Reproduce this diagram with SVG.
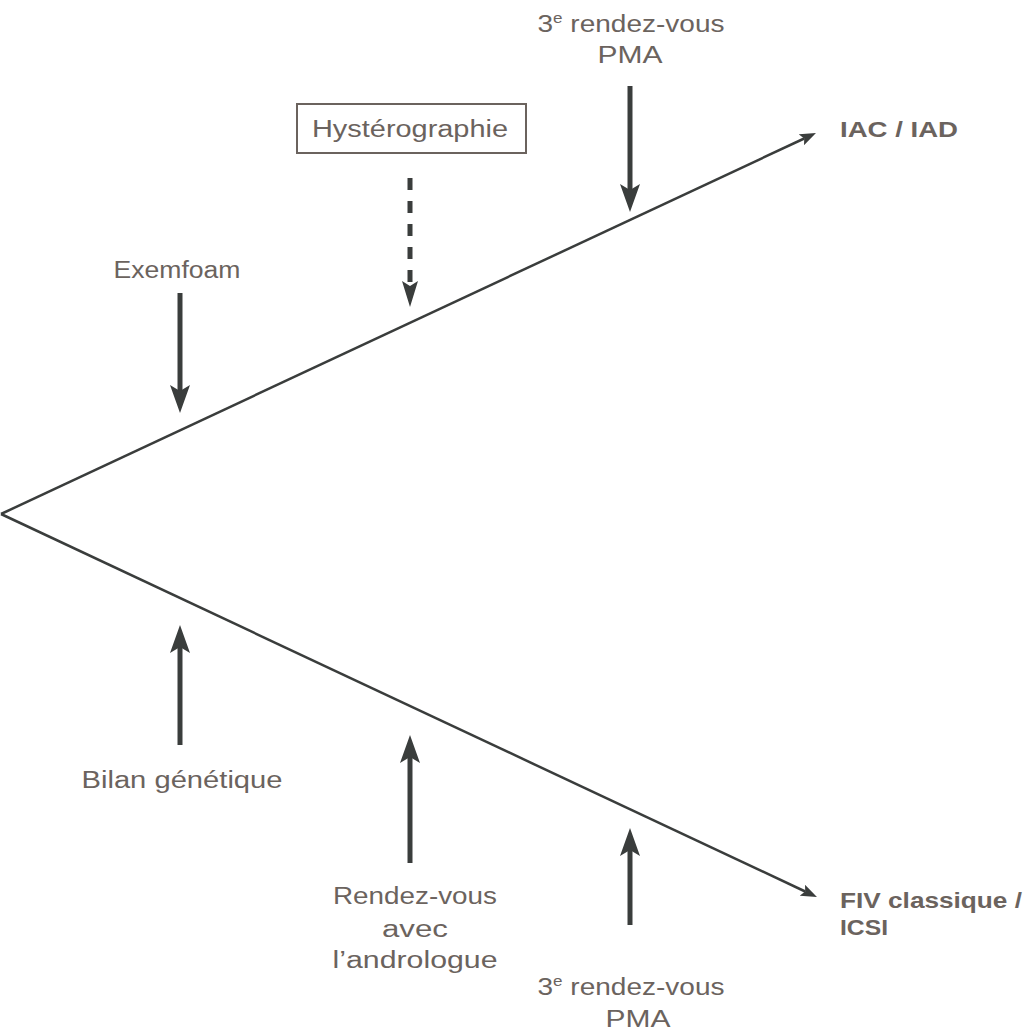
<svg xmlns="http://www.w3.org/2000/svg" width="1031" height="1032" viewBox="0 0 1031 1032">
<style>
.t{font-family:"Liberation Sans",Arial,sans-serif;font-size:23px;fill:#6b635e;text-anchor:middle}
.b{font-family:"Liberation Sans",Arial,sans-serif;font-size:22px;font-weight:bold;fill:#6b635e}
.ln{stroke:#3a3d3c;stroke-width:2.5;fill:none}
.ar{stroke:#3a3d3c;stroke-width:5;fill:none}
</style>
<defs>
<marker id="m1" markerWidth="16" markerHeight="12" refX="3" refY="6" orient="auto" markerUnits="userSpaceOnUse"><path d="M0,0 L16,6 L0,12 L3,6 Z" fill="#3a3d3c"/></marker>
<marker id="m2" markerWidth="28" markerHeight="20" refX="6" refY="10" orient="auto" markerUnits="userSpaceOnUse"><path d="M0,0 L28,10 L0,20 L6,10 Z" fill="#3a3d3c"/></marker>
<marker id="m3" markerWidth="26" markerHeight="16" refX="5" refY="8" orient="auto" markerUnits="userSpaceOnUse"><path d="M0,0 L26,8 L0,16 L5,8 Z" fill="#3a3d3c"/></marker>
</defs>
<rect width="1031" height="1032" fill="#fff"/>
<g id="connectors">
<line class="ln" x1="1" y1="514" x2="804.2" y2="138.5" marker-end="url(#m1)"/>
<line class="ln" x1="1" y1="514" x2="805.2" y2="891.5" marker-end="url(#m1)"/>
<line class="ar" x1="180" y1="293" x2="180" y2="391" marker-end="url(#m2)"/>
<line class="ar" x1="630" y1="86" x2="630" y2="190" marker-end="url(#m2)"/>
<line class="ar" x1="410" y1="178" x2="410" y2="286" stroke-dasharray="12,11" marker-end="url(#m3)"/>
<line class="ar" x1="180" y1="745" x2="180" y2="647" marker-end="url(#m2)"/>
<line class="ar" x1="410" y1="863" x2="410" y2="757" marker-end="url(#m2)"/>
<line class="ar" x1="630" y1="925" x2="630" y2="850" marker-end="url(#m2)"/>
</g>
<g id="rdv-pma-top">
<text class="t" x="631" y="32" textLength="187" lengthAdjust="spacingAndGlyphs">3<tspan font-size="14" dy="-9">e</tspan><tspan dy="9"> rendez-vous</tspan></text>
<text class="t" x="630" y="63" textLength="65" lengthAdjust="spacingAndGlyphs">PMA</text>
</g>
<g id="hysterographie">
<rect x="297" y="104" width="229" height="49" fill="#fff" stroke="#6b635e" stroke-width="2"/>
<text class="t" x="410" y="137" textLength="196" lengthAdjust="spacingAndGlyphs">Hystérographie</text>
</g>
<g id="exemfoam"><text class="t" x="177" y="278" textLength="127" lengthAdjust="spacingAndGlyphs">Exemfoam</text></g>
<g id="iac"><text class="b" x="840" y="137" textLength="118" lengthAdjust="spacingAndGlyphs">IAC / IAD</text></g>
<g id="bilan"><text class="t" x="182" y="788" textLength="201" lengthAdjust="spacingAndGlyphs">Bilan génétique</text></g>
<g id="andrologue">
<text class="t" x="415" y="904" textLength="164" lengthAdjust="spacingAndGlyphs">Rendez-vous</text>
<text class="t" x="415" y="937" textLength="66" lengthAdjust="spacingAndGlyphs">avec</text>
<text class="t" x="415" y="968" textLength="165" lengthAdjust="spacingAndGlyphs">l’andrologue</text>
</g>
<g id="rdv-pma-bottom">
<text class="t" x="631" y="995" textLength="187" lengthAdjust="spacingAndGlyphs">3<tspan font-size="14" dy="-9">e</tspan><tspan dy="9"> rendez-vous</tspan></text>
<text class="t" x="638" y="1027" textLength="65" lengthAdjust="spacingAndGlyphs">PMA</text>
</g>
<g id="fiv">
<text class="b" x="840" y="908" textLength="182" lengthAdjust="spacingAndGlyphs">FIV classique /</text>
<text class="b" x="840" y="935" textLength="48" lengthAdjust="spacingAndGlyphs">ICSI</text>
</g>
</svg>
